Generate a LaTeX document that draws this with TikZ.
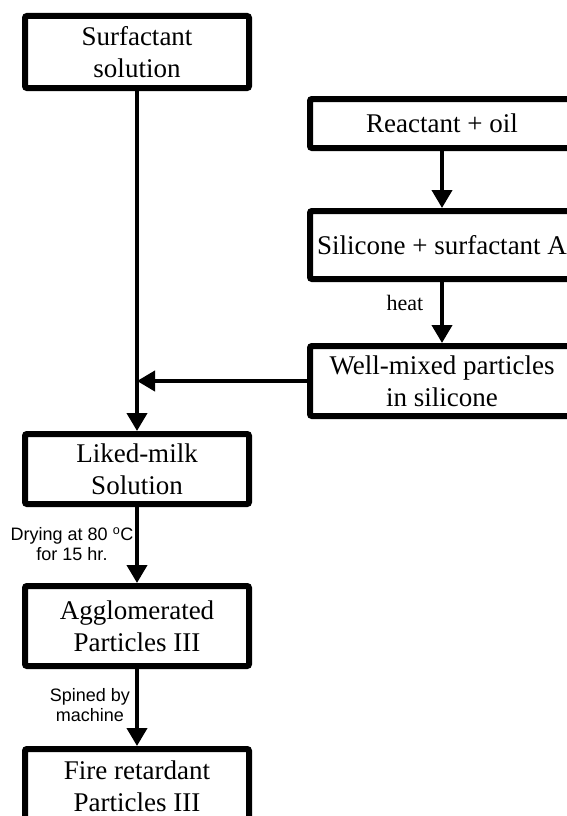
\documentclass[tikz,border=0pt]{standalone}
\usepackage{fontspec}
\setmainfont{Liberation Serif}
\newfontfamily\labfont{Liberation Sans}
\usetikzlibrary{arrows.meta}
\begin{document}
\begin{tikzpicture}[x=1pt,y=-1pt,
  box/.style={draw, line width=6pt, rounded corners=2pt, align=center, inner sep=0pt,
    font=\fontsize{27}{32}\selectfont},
  conn/.style={line width=4pt},
  arr/.style={conn, -{Triangle[length=18pt,width=20pt]}},
  lab/.style={align=center, inner sep=0pt, font=\labfont\fontsize{18}{20}\selectfont},
  slab/.style={align=center, inner sep=0pt, font=\fontsize{22}{24}\selectfont}]
\clip (0,0) rectangle (567,816);
% left column
\node[box, minimum width=224pt, minimum height=72pt] (s) at (137,52) {Surfactant\\solution};
\node[box, minimum width=224pt, minimum height=70pt] (lm) at (137,469) {Liked-milk\\Solution};
\node[box, minimum width=224pt, minimum height=80pt] (ag) at (137,626) {Agglomerated\\Particles III};
\node[box, minimum width=224pt, minimum height=74pt] (fr) at (137,786) {Fire retardant\\Particles III};
% right column
\node[box, minimum width=264pt, minimum height=49pt] (ro) at (442,123.5) {Reactant + oil};
\node[box, minimum width=264pt, minimum height=68pt] (si) at (442,245) {Silicone + surfactant A};
\node[box, minimum width=264pt, minimum height=70pt] (wm) at (442,381) {Well-mixed particles\\in silicone};
% connectors
\draw[arr] (ro.south) -- (si.north);
\draw[arr] (si.south) -- (wm.north);
\draw[arr] (s.south) -- (lm.north);
\draw[arr] (wm.west) -- (s.south |- wm.west);
\draw[arr] (lm.south) -- (ag.north);
\draw[arr] (ag.south) -- (fr.north);
% labels
\node[slab] (heat) at (405,303) {heat};
\node[lab] (dry) at (72,544) {Drying at 80 \textsuperscript{o}C\\for 15 hr.};
\node[lab] (spin) at (90,705) {Spined by\\machine};
\end{tikzpicture}
\end{document}
